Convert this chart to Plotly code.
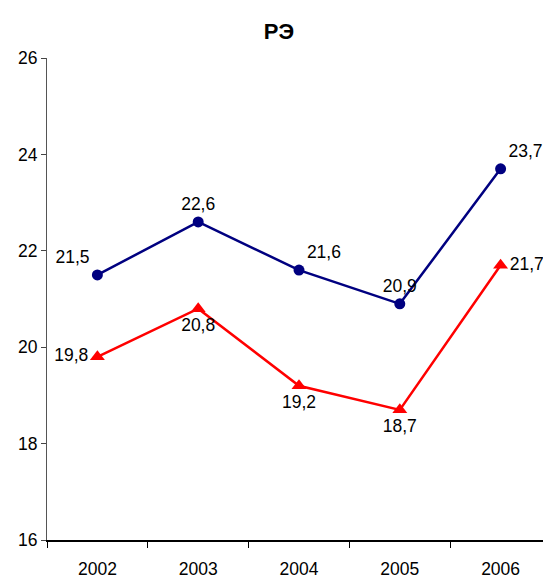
import plotly.graph_objects as go

years = ["2002", "2003", "2004", "2005", "2006"]
blue_vals = [21.5, 22.6, 21.6, 20.9, 23.7]
red_vals = [19.8, 20.8, 19.2, 18.7, 21.7]
blue_pos = ["top left", "top center", "top right", "top center", "top right"]
red_pos = ["middle left", "bottom center", "bottom center", "bottom center", "middle right"]

FONT = "Arial, Liberation Sans, sans-serif"

fig = go.Figure()
fig.add_trace(go.Scatter(
    x=years, y=blue_vals, mode="lines+markers+text",
    line=dict(color="#000080", width=2.5),
    marker=dict(symbol="circle", size=11, color="#000080"),
    texttemplate="%{y:.1f}", textposition=blue_pos,
    textfont=dict(family=FONT, size=17.5, color="black"),
    cliponaxis=False, showlegend=False,
))
fig.add_trace(go.Scatter(
    x=years, y=red_vals, mode="lines+markers+text",
    line=dict(color="#FF0000", width=2.5),
    marker=dict(symbol="triangle-up", size=13, color="#FF0000"),
    texttemplate="%{y:.1f}", textposition=red_pos,
    textfont=dict(family=FONT, size=17.5, color="black"),
    cliponaxis=False, showlegend=False,
))

W, H = 543, 571
fig.update_layout(
    width=W, height=H,
    margin=dict(l=39, r=0, t=50, b=39),
    paper_bgcolor="white", plot_bgcolor="white",
    separators=", ",
    font=dict(family=FONT, size=17.5, color="black"),
    title=dict(text="<b>РЭ</b>", x=(279 - 8) / W, xanchor="center", y=1 - 23 / H, yanchor="middle",
               font=dict(size=22, family=FONT)),
)
fig.update_xaxes(
    type="category", range=[-0.5, 4.5], tickson="boundaries",
    ticks="outside", ticklen=6, tickcolor="black",
    showline=True, linecolor="black", linewidth=1.5, showgrid=False,
    tickfont=dict(size=17.5), ticklabelstandoff=12,
)
fig.update_yaxes(
    range=[16, 26], dtick=2, ticks="outside", ticklen=5, tickcolor="#444",
    showline=True, linecolor="#555", linewidth=1.2, showgrid=False, zeroline=False,
    tickfont=dict(size=17.5),
)
fig.write_html("out.html")
